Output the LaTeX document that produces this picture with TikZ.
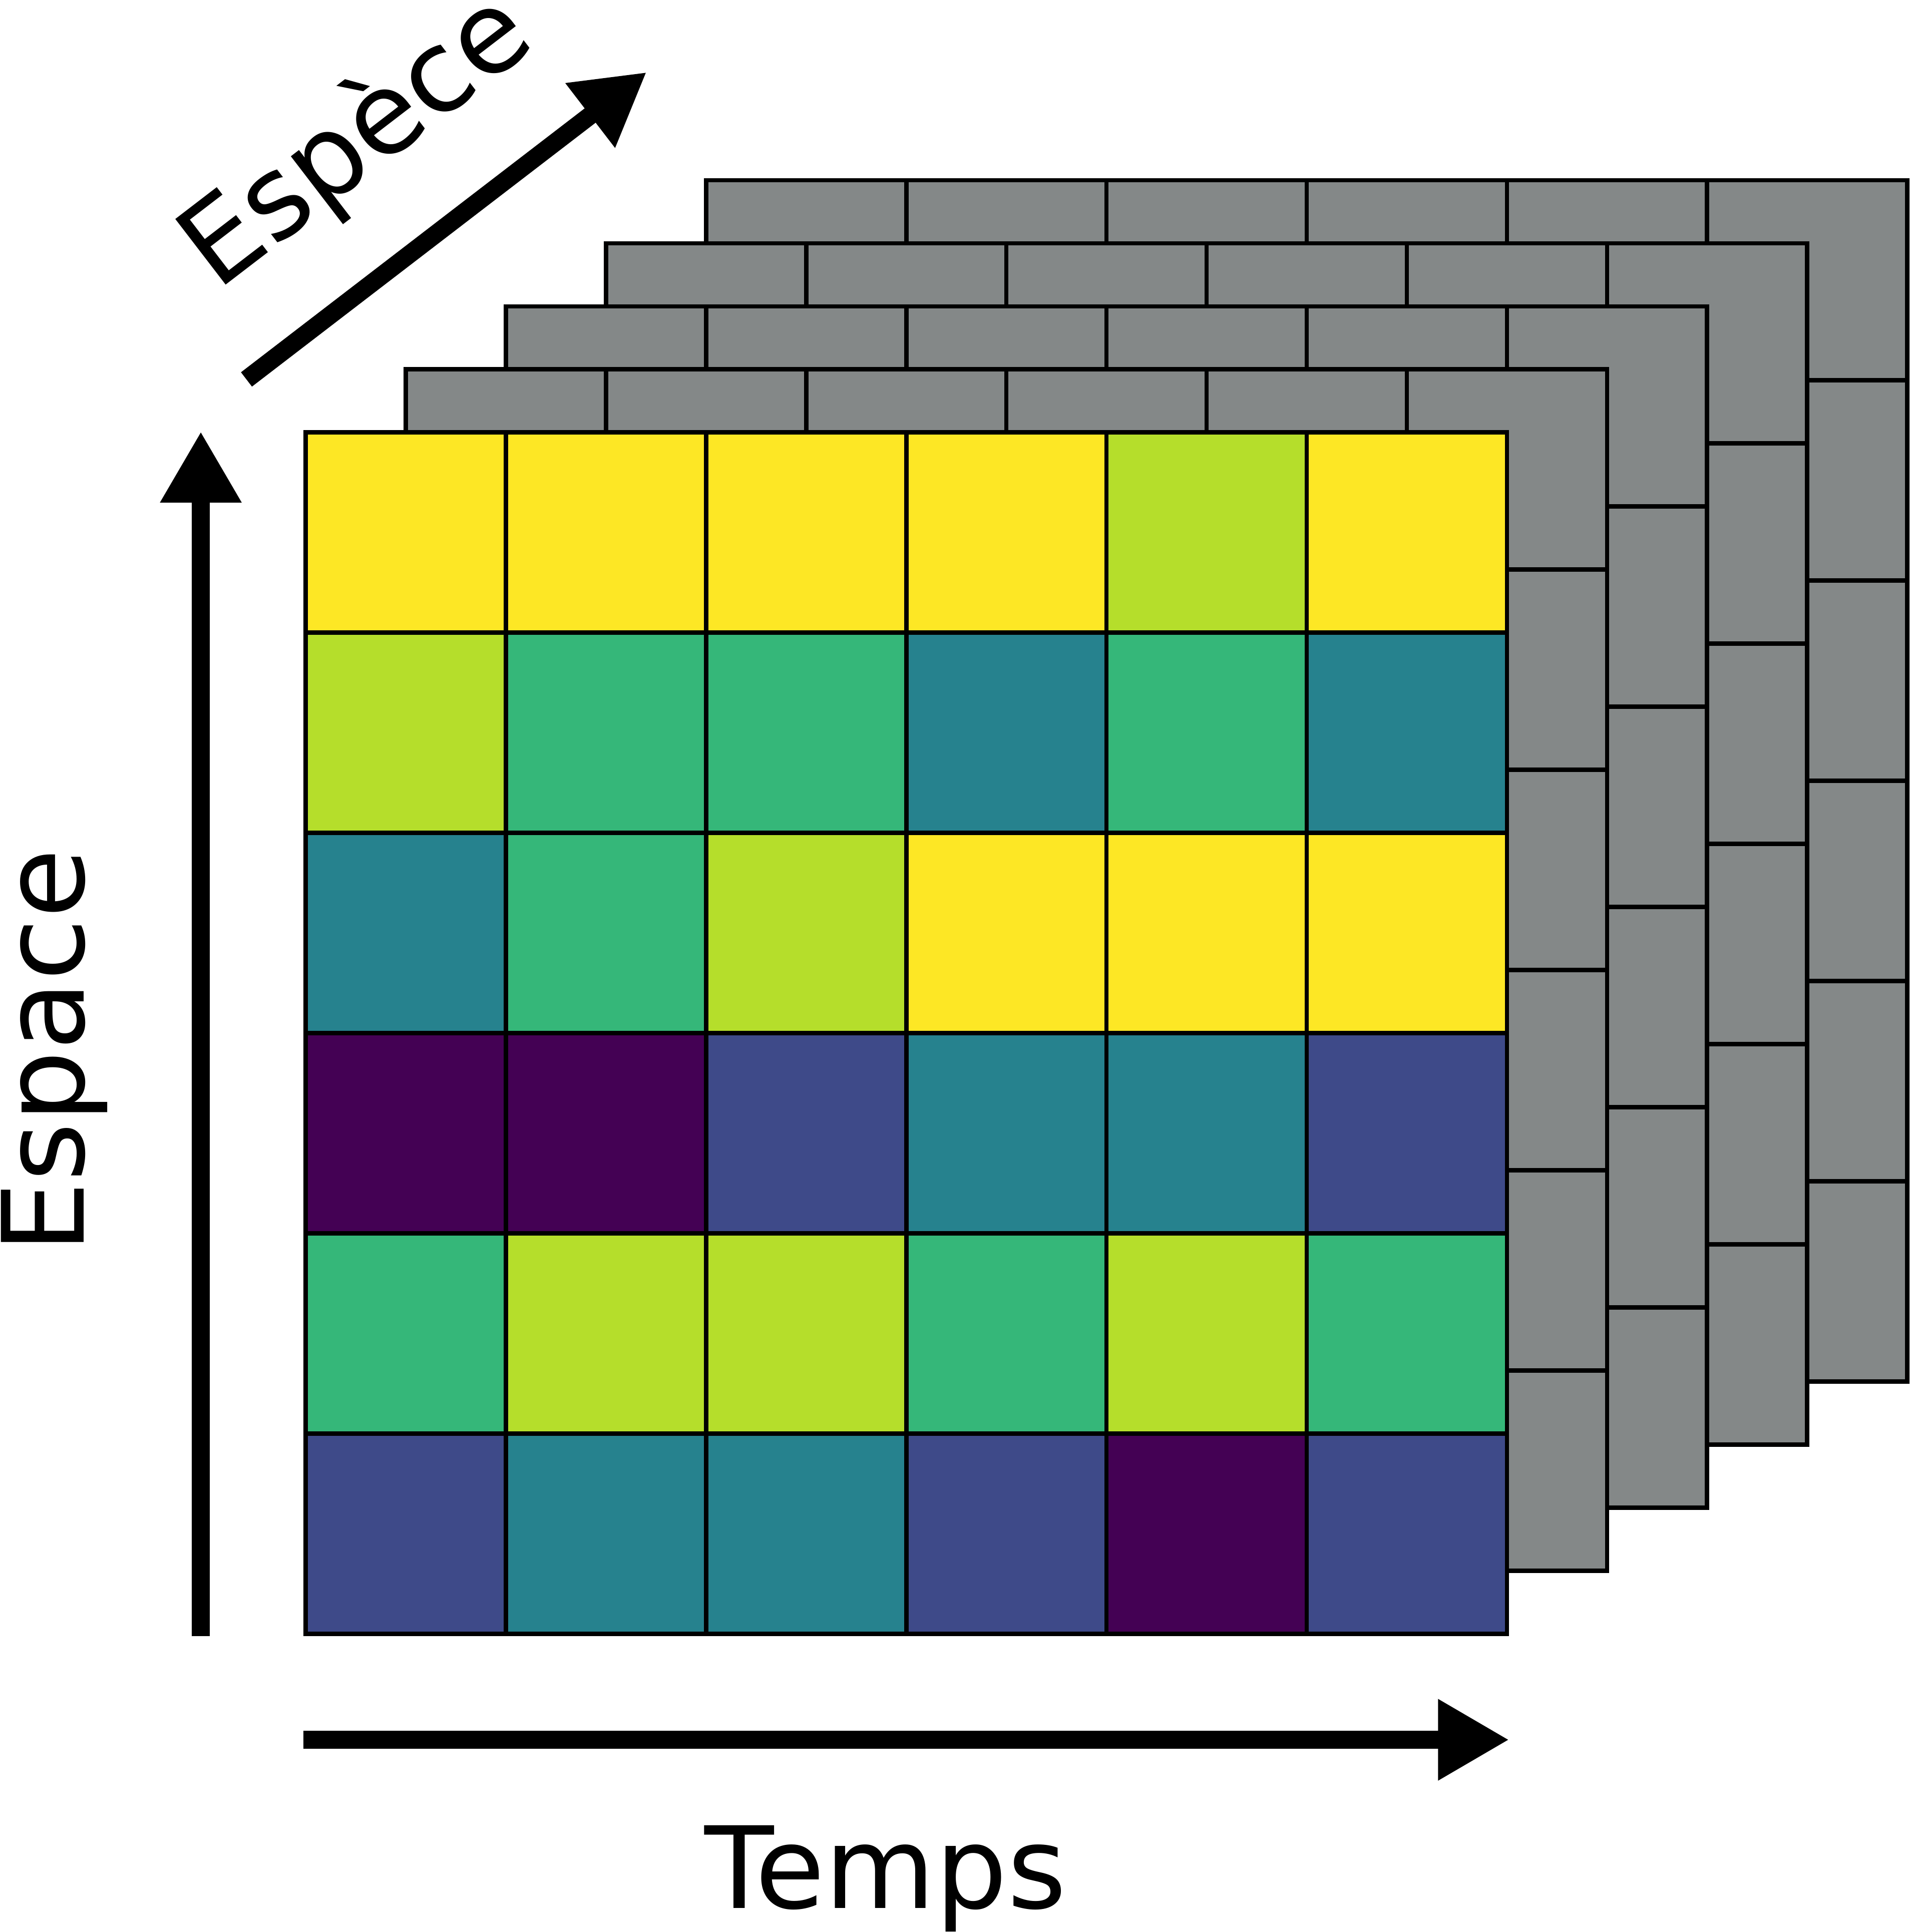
\documentclass[tikz,border=0pt]{standalone}
\usepackage{fontspec}
\setmainfont{DejaVu Sans}
\usetikzlibrary{arrows.meta}

\definecolor{vyel}{HTML}{FDE725}
\definecolor{vlime}{HTML}{B5DE2B}
\definecolor{vgreen}{HTML}{35B779}
\definecolor{vteal}{HTML}{26828E}
\definecolor{vind}{HTML}{3E4A89}
\definecolor{vpurp}{HTML}{440154}
\definecolor{layergray}{HTML}{848888}

\begin{document}
\begin{tikzpicture}[
  x=1.6cm, y=1.6cm,
  font=\fontsize{25.8}{31}\selectfont,
  cell/.style={draw=black, line width=1pt},
  backcell/.style={cell, fill=layergray},
  axis/.style={-{Triangle[length=5.7mm, width=6.1mm]}, line width=4.1pt},
  lab/.style={inner sep=0pt, anchor=base},
]
\useasboundingbox (-1.526,-1.489) rectangle (8.012,8.160);

% ---------------------------------------------------------------
% stacked layers (species), back to front
% ---------------------------------------------------------------
\foreach \k in {4,3,2,1} {
  \begin{scope}[shift={(0.5*\k,0.315*\k)}]
    \foreach \i in {0,...,5}
      \foreach \j in {0,...,5}
        \filldraw[backcell] (\i,\j) rectangle ++(1,1);
  \end{scope}
}

% front layer: space (rows) x time (columns)
\foreach \rowcols [count=\r] in {
    {vyel,vyel,vyel,vyel,vlime,vyel},
    {vlime,vgreen,vgreen,vteal,vgreen,vteal},
    {vteal,vgreen,vlime,vyel,vyel,vyel},
    {vpurp,vpurp,vind,vteal,vteal,vind},
    {vgreen,vlime,vlime,vgreen,vlime,vgreen},
    {vind,vteal,vteal,vind,vpurp,vind}} {
  \foreach \col [count=\c] in \rowcols
    \filldraw[cell, fill=\col] (\c-1,6-\r) rectangle ++(1,1);
}

% ---------------------------------------------------------------
% axes
% ---------------------------------------------------------------
\coordinate (espB) at (-0.523,-0.012);
\coordinate (espT) at (-0.523,6.006);
\coordinate (tpsB) at (-0.012,-0.529);
\coordinate (tpsE) at (6.012,-0.529);
\coordinate (spcB) at (-0.295,6.265);
\coordinate (spcE) at (1.704,7.800);

\draw[axis] (espB) -- (espT);
\draw[axis] (tpsB) -- (tpsE);
\draw[axis] (spcB) -- (spcE);

\node[lab, rotate=90] (espace) at (-1.108,2.911) {Espace};
\node[lab] (temps) at (2.897,-1.370) {Temps};
\node[lab, rotate=37.5] (espece) at (0.360,7.318) {Espèce};

\end{tikzpicture}
\end{document}
